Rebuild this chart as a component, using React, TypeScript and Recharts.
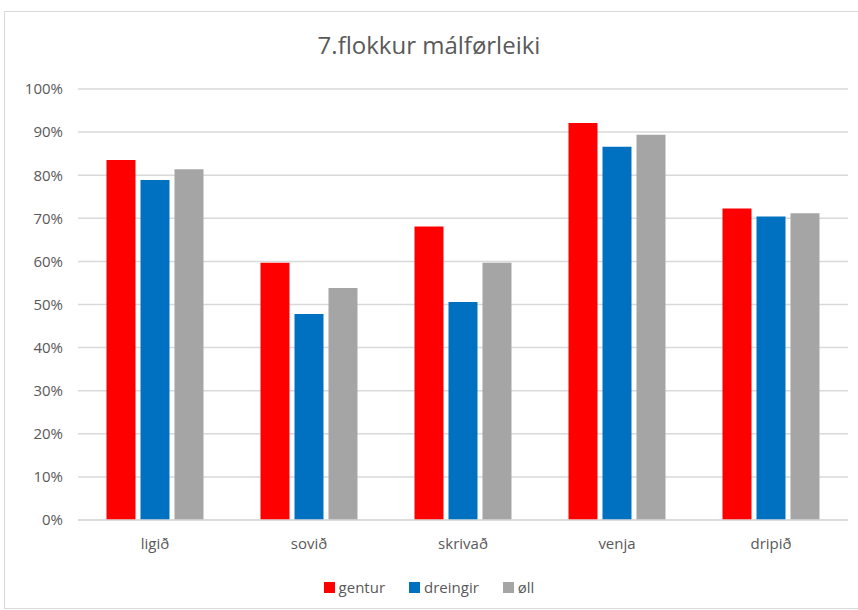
import { BarChart, Bar, XAxis, YAxis, CartesianGrid } from "recharts";

const categories = ["ligið", "sovið", "skrivað", "venja", "dripið"];
const gentur = [0.835, 0.597, 0.681, 0.921, 0.723];
const dreingir = [0.789, 0.478, 0.506, 0.866, 0.704];
const oll = [0.814, 0.538, 0.597, 0.894, 0.712];
const yTicks = [0, 0.1, 0.2, 0.3, 0.4, 0.5, 0.6, 0.7, 0.8, 0.9, 1];

const series = [
    { key: "gentur", name: "gentur", color: "#FF0000" },
    { key: "dreingir", name: "dreingir", color: "#0070C0" },
    { key: "oll", name: "øll", color: "#A5A5A5" },
];

const data = categories.map((c, i) => ({
    name: c,
    gentur: gentur[i],
    dreingir: dreingir[i],
    oll: oll[i],
}));

const font = "'Open Sans', sans-serif";
const textColor = "#595959";

export default function App() {
    return (
        <div style={{ position: "fixed", left: 0, top: 0, width: 858, height: 610, background: "#fff", fontFamily: font }}>
            {/* chart frame */}
            <div style={{ position: "absolute", left: 4, top: 11, width: 870, height: 596, border: "1px solid #D9D9D9" }} />

            {/* Title */}
            <div style={{ position: "absolute", left: 0, top: 29, width: 858, textAlign: "center", fontSize: 24, color: textColor, lineHeight: "32px" }}>
                7.flokkur málførleiki
            </div>

            <div style={{ position: "absolute", left: 0, top: 0 }}>
                <BarChart
                    width={858}
                    height={610}
                    data={data}
                    margin={{ top: 89, right: 10, bottom: 60, left: 0 }}
                    barCategoryGap="18.5%"
                    barGap={5}
                >
                    <CartesianGrid vertical={false} stroke="#D9D9D9" strokeWidth={1.5} />
                    <XAxis
                        dataKey="name"
                        height={30}
                        tickLine={false}
                        tickSize={0}
                        tickMargin={18}
                        axisLine={{ stroke: "#D9D9D9", strokeWidth: 1.5 }}
                        tick={{ fill: textColor, fontSize: 15, fontFamily: font }}
                    />
                    <YAxis
                        width={78}
                        domain={[0, 1]}
                        ticks={yTicks}
                        interval={0}
                        axisLine={false}
                        tickLine={false}
                        tickSize={0}
                        tickMargin={15}
                        tickFormatter={(v: number) => `${Math.round(v * 100)}%`}
                        tick={{ fill: textColor, fontSize: 15, fontFamily: font }}
                    />
                    {series.map((s) => (
                        <Bar key={s.key} dataKey={s.key} name={s.name} fill={s.color} isAnimationActive={false} />
                    ))}
                </BarChart>
            </div>

            {/* Legend */}
            <div style={{ position: "absolute", left: 0, top: 577, width: 858, display: "flex", justifyContent: "center", gap: 24, fontSize: 15, color: textColor, lineHeight: "20px" }}>
                {series.map((s) => (
                    <div key={s.key} style={{ display: "flex", alignItems: "center" }}>
                        <span style={{ display: "inline-block", width: 11, height: 11, background: s.color, marginRight: 4 }} />
                        <span>{s.name}</span>
                    </div>
                ))}
            </div>
        </div>
    );
}
